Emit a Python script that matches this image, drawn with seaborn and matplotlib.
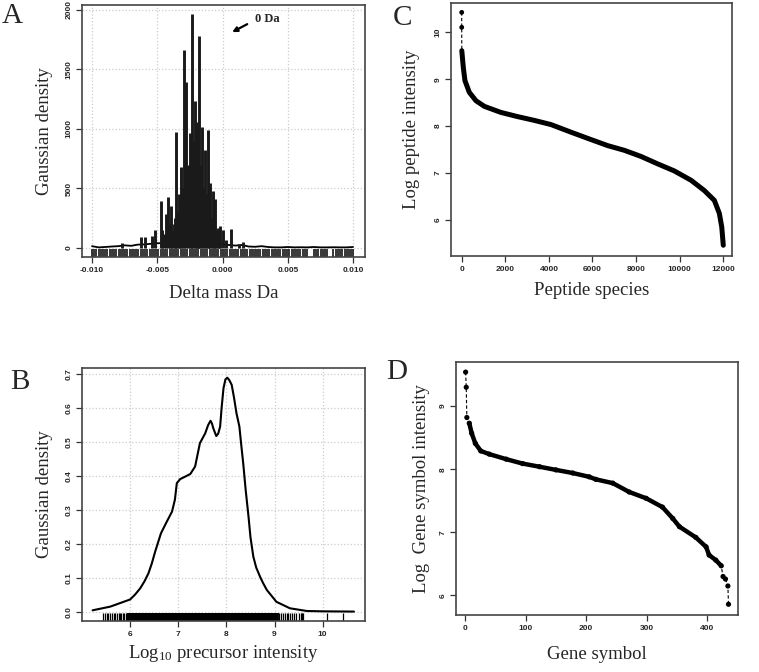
import numpy as np
import pandas as pd
import matplotlib
matplotlib.use("Agg")
import matplotlib.pyplot as plt
import seaborn as sns

######## Data
## A: delta mass spikes (Da) and gaussian density
spike_mass = [-0.00771, -0.00626, -0.00595, -0.00540, -0.00519, -0.00475, -0.00465, -0.00445,
              -0.00434, -0.00416, -0.00405, -0.00393, -0.00384, -0.00375, -0.00365, -0.00355,
              -0.00346, -0.00337, -0.00328, -0.00319, -0.00305, -0.00293, -0.00278, -0.00265,
              -0.00252, -0.00243, -0.00234, -0.00224, -0.00214, -0.00206, -0.00198, -0.00188,
              -0.00178, -0.00169, -0.00160, -0.00148, -0.00137, -0.00125, -0.00114, -0.00103,
              -0.00093, -0.00084, -0.00076, -0.00067, -0.00058, -0.00048, -0.00037, -0.00028,
              -0.00019, 0.00001, 0.00024, 0.00065, 0.00124, 0.00160]
spike_height = [40, 93, 93, 100, 149, 393, 150, 120,
                289, 429, 200, 353, 150, 205, 250, 976,
                300, 457, 350, 682, 500, 1663, 1391, 700,
                962, 600, 1964, 900, 1234, 700, 1060, 600,
                1781, 700, 1018, 500, 822, 450, 990, 300,
                550, 250, 480, 200, 410, 150, 168, 120,
                185, 149, 65, 163, 36, 50]
base_mass = [-0.0100, -0.0095, -0.0090, -0.0085, -0.0080, -0.0075, -0.0070, -0.0065,
             -0.0060, -0.0055, -0.0050, -0.0045, -0.0040, -0.0035, -0.0030, -0.0025,
             -0.0020, -0.0015, -0.0010, -0.0005, 0.0000, 0.0005, 0.0010, 0.0015,
             0.0020, 0.0025, 0.0030, 0.0035, 0.0040, 0.0045, 0.0050, 0.0055,
             0.0060, 0.0065, 0.0070, 0.0075, 0.0080, 0.0085, 0.0090, 0.0095, 0.0100]
base_dens = [15, 5, 8, 12, 15, 22, 18, 28,
             30, 35, 40, 40, 40, 40, 40, 40,
             40, 40, 40, 35, 30, 25, 20, 25,
             12, 10, 15, 8, 5, 5, 8, 5,
             6, 5, 8, 5, 5, 6, 5, 5, 8]
rug_a_mda = [-10.00, -9.84, -9.66, -9.50, -9.33, -9.15, -8.99, -8.82, -8.64, -8.48,
             -8.31, -8.13, -7.97, -7.80, -7.62, -7.46, -7.29, -7.11, -6.95, -6.78,
             -6.60, -6.44, -6.27, -6.09, -5.93, -5.76, -5.58, -5.42, -5.25, -5.07,
             -4.91, -4.74, -4.56, -4.40, -4.23, -4.05, -3.89, -3.72, -3.54, -3.38,
             -3.21, -3.03, -2.87, -2.70, -2.52, -2.36, -2.19, -2.01, -1.85, -1.68,
             -1.50, -1.34, -1.17, -0.99, -0.83, -0.66, -0.48, -0.32, -0.15, 0.03,
             0.19, 0.36, 0.54, 0.70, 0.87, 1.05, 1.21, 1.38, 1.56, 1.72,
             1.89, 2.07, 2.23, 2.40, 2.58, 2.74, 2.91, 3.09, 3.25, 3.42,
             3.60, 3.76, 3.93, 4.11, 4.27, 4.44, 4.62, 4.78, 4.95, 5.13,
             5.29, 5.46, 5.64, 5.80, 5.97, 6.15, 6.31, 6.48, 7.02, 7.18,
             7.35, 7.53, 7.69, 7.86, 8.04, 8.50, 8.67, 8.85, 9.01, 9.18,
             9.36, 9.52, 9.69, 9.87, 10.00]

## B: log10 precursor intensity density
b_logint = [5.22, 5.59, 6.00, 6.10, 6.21, 6.30, 6.38, 6.45, 6.52, 6.64, 6.76, 6.87, 6.93,
            6.97, 7.04, 7.14, 7.25, 7.35, 7.45, 7.56, 7.62, 7.67, 7.70, 7.73, 7.79, 7.83,
            7.87, 7.90, 7.94, 7.98, 8.02, 8.06, 8.11, 8.16, 8.21, 8.27, 8.31, 8.35, 8.40,
            8.46, 8.50, 8.56, 8.62, 8.70, 8.76, 8.84, 9.04, 9.32, 9.67, 10.01, 10.65]
b_dens = [0.004, 0.015, 0.036, 0.050, 0.069, 0.090, 0.113, 0.142, 0.177, 0.231, 0.265, 0.295, 0.330,
          0.379, 0.391, 0.398, 0.406, 0.428, 0.497, 0.526, 0.550, 0.563, 0.555, 0.540, 0.518, 0.525,
          0.546, 0.600, 0.659, 0.685, 0.690, 0.683, 0.669, 0.630, 0.585, 0.546, 0.490, 0.437, 0.360,
          0.280, 0.220, 0.162, 0.130, 0.103, 0.085, 0.064, 0.029, 0.010, 0.002, 0.001, 0.0003]
rug_b_sparse = [5.43, 5.47, 5.51, 5.55, 5.58, 5.62, 5.66, 5.69, 5.72, 5.76, 5.79, 5.82,
                5.85, 5.88, 5.91, 5.94, 9.09, 9.13, 9.17, 9.21, 9.25, 9.29, 9.33, 9.37,
                9.41, 9.45, 9.50, 9.56, 9.57, 9.58, 9.59, 10.10, 10.43]
rug_b_dense = [5.97, 6.01, 6.05, 6.09, 6.13, 6.17, 6.21, 6.25, 6.29, 6.33, 6.37, 6.41,
               6.45, 6.49, 6.53, 6.57, 6.61, 6.65, 6.69, 6.73, 6.77, 6.81, 6.85, 6.89,
               6.93, 6.97, 7.01, 7.05, 7.09, 7.13, 7.17, 7.21, 7.25, 7.29, 7.33, 7.37,
               7.41, 7.45, 7.49, 7.53, 7.57, 7.61, 7.65, 7.69, 7.73, 7.77, 7.81, 7.85,
               7.89, 7.93, 7.97, 8.01, 8.05, 8.09, 8.13, 8.17, 8.21, 8.25, 8.29, 8.33,
               8.37, 8.41, 8.45, 8.49, 8.53, 8.57, 8.61, 8.65, 8.69, 8.73, 8.77, 8.81,
               8.85, 8.89, 8.93, 8.97, 9.01, 9.05]

## C: ranked peptide intensities
c_rank = [1, 2, 5, 75, 150, 350, 656, 1040, 1800, 2570, 3330, 4100, 5000, 5930, 6700,
          7460, 8220, 8990, 9750, 10520, 11130, 11590, 11820, 11930, 12000]
c_logint = [10.43, 10.11, 9.61, 9.25, 8.97, 8.72, 8.54, 8.42, 8.29, 8.20, 8.12, 8.03, 7.87,
            7.71, 7.58, 7.48, 7.35, 7.19, 7.04, 6.84, 6.62, 6.41, 6.13, 5.84, 5.45]

## D: ranked gene symbol intensities
d_rank = [1, 2, 3, 7, 11, 17, 26, 40, 68, 95, 123, 150, 178, 205, 216, 244, 271, 299,
          326, 343, 354, 381, 398, 403, 414, 423, 426, 430, 434, 435]
d_logint = [9.54, 9.30, 8.82, 8.73, 8.57, 8.41, 8.29, 8.24, 8.16, 8.09, 8.04, 7.99, 7.94,
            7.88, 7.84, 7.78, 7.64, 7.54, 7.40, 7.22, 7.09, 6.92, 6.77, 6.64, 6.56, 6.47,
            6.30, 6.26, 6.15, 5.86]

######## Plot
sns.set_style("white")
plt.rcParams['font.family'] = ['Liberation Serif', 'DejaVu Serif']
plt.rcParams['mathtext.default'] = 'regular'

fig = plt.figure(figsize=(7.59, 6.72), dpi=100)
W, H = 759.0, 672.0
def box(l, t, r, b):
    return [l / W, 1 - b / H, (r - l) / W, (b - t) / H]

axA = fig.add_axes(box(82, 5, 365, 257))
axC = fig.add_axes(box(451, 3, 732, 256))
axB = fig.add_axes(box(82, 368, 365, 621))
axD = fig.add_axes(box(456, 362, 738, 615))

tickfont = dict(family='Liberation Sans', weight='bold', size=6)
labfont = dict(family='Liberation Serif', size=13.5)

def style(ax, xt, yt, xfmt, yfmt, grid=False):
    ax.set_xticks(xt)
    ax.set_yticks(yt)
    ax.set_xticklabels([xfmt % v for v in xt], **tickfont)
    ax.set_yticklabels([yfmt % v for v in yt], rotation=90, va='center', **tickfont)
    ax.tick_params(direction='out', length=4, width=0.9, color='#333333', pad=3,
                   bottom=True, left=True)
    for s in ax.spines.values():
        s.set_color('#444444')
        s.set_linewidth(1.2)
    if grid:
        ax.grid(True, color='#cccccc', lw=0.9, ls=':')
        ax.set_axisbelow(True)

def rug(ax, vals, width):
    n_before = len(ax.collections)
    sns.rugplot(x=vals, ax=ax, height=0.033, color='black', expand_margins=False)
    for c in ax.collections[n_before:]:
        c.set_linewidth(width)
        c.set_antialiased(True)

#! A
dfA = pd.DataFrame({"mass": base_mass, "dens": base_dens})
sns.lineplot(data=dfA, x="mass", y="dens", ax=axA, color='black', lw=1.3)
axA.vlines(spike_mass, 0, spike_height, color='#1a1a1a', lw=2.1)
rug(axA, np.array(rug_a_mda) / 1000, 1.1)
axA.set_xlim(-0.01077, 0.01092)
axA.set_ylim(-76, 2042)
style(axA, [-0.010, -0.005, 0.000, 0.005, 0.010], [0, 500, 1000, 1500, 2000], '%.3f', '%d', grid=True)
axA.set_xlabel("Delta mass Da", labelpad=8, **labfont)
axA.set_ylabel("Gaussian density", labelpad=9, **labfont)
axA.annotate("", xy=(0.00055, 1803), xytext=(0.00208, 1892),
             arrowprops=dict(arrowstyle='-|>', color='black', lw=1.6, mutation_scale=7))
axA.text(0.00246, 1925, "0 Da", family='Liberation Serif', weight='bold', size=9, va='center')

#! B
dfB = pd.DataFrame({"logint": b_logint, "dens": b_dens})
sns.lineplot(data=dfB, x="logint", y="dens", ax=axB, color='black', lw=1.5)
rug(axB, rug_b_sparse, 0.9)
# dense core of the rug drawn as wide ticks so it reads as a solid band
axB.vlines(rug_b_dense, 0, 0.033, transform=axB.get_xaxis_transform(),
           color='black', lw=2.8, antialiased=True)
axB.set_xlim(5.0, 10.88)
axB.set_ylim(-0.0275, 0.7186)
style(axB, [6, 7, 8, 9, 10], [0.0, 0.1, 0.2, 0.3, 0.4, 0.5, 0.6, 0.7], '%d', '%.1f', grid=True)
axB.set_xlabel("Log$_{10}$ precursor intensity", labelpad=4, **labfont)
axB.set_ylabel("Gaussian density", labelpad=9, **labfont)

#! C
dfC = pd.DataFrame({"rank": c_rank, "logint": c_logint})
sns.lineplot(data=dfC.iloc[:3], x="rank", y="logint", ax=axC, color='black', lw=0.8,
             linestyle=(0, (3, 2)))
sns.lineplot(data=dfC.iloc[2:], x="rank", y="logint", ax=axC, color='black', lw=3.6)
sns.scatterplot(data=dfC.iloc[:2], x="rank", y="logint", ax=axC, color='black', s=12, edgecolor='none')
axC.set_xlim(-490, 12400)
axC.set_ylim(5.22, 10.63)
style(axC, [0, 2000, 4000, 6000, 8000, 10000, 12000], [6, 7, 8, 9, 10], '%d', '%d')
axC.set_xlabel("Peptide species", labelpad=7, **labfont)
axC.set_ylabel("Log peptide intensity", labelpad=10, **labfont)

#! D
dfD = pd.DataFrame({"rank": d_rank, "logint": d_logint})
sns.lineplot(data=dfD, x="rank", y="logint", ax=axD, color='black', lw=0.8, linestyle=(0, (3, 2)))
sns.lineplot(data=dfD.iloc[3:-4], x="rank", y="logint", ax=axD, color='black', lw=3.2)
sns.scatterplot(data=dfD, x="rank", y="logint", ax=axD, color='black', s=14, edgecolor='none')
axD.set_xlim(-14.9, 450.7)
axD.set_ylim(5.69, 9.70)
style(axD, [0, 100, 200, 300, 400], [6, 7, 8, 9], '%d', '%d')
axD.set_xlabel("Gene symbol", labelpad=10, **labfont)
axD.set_ylabel("Log  Gene symbol intensity", labelpad=7, **labfont)

#! Panel letters
for lab, x, y in [("A", 12, 16), ("C", 402, 18), ("B", 20, 382), ("D", 397, 372)]:
    fig.text(x / W, 1 - y / H, lab, family='Liberation Serif', size=21, ha='center', va='center')

plt.savefig("out.png", dpi=100)
